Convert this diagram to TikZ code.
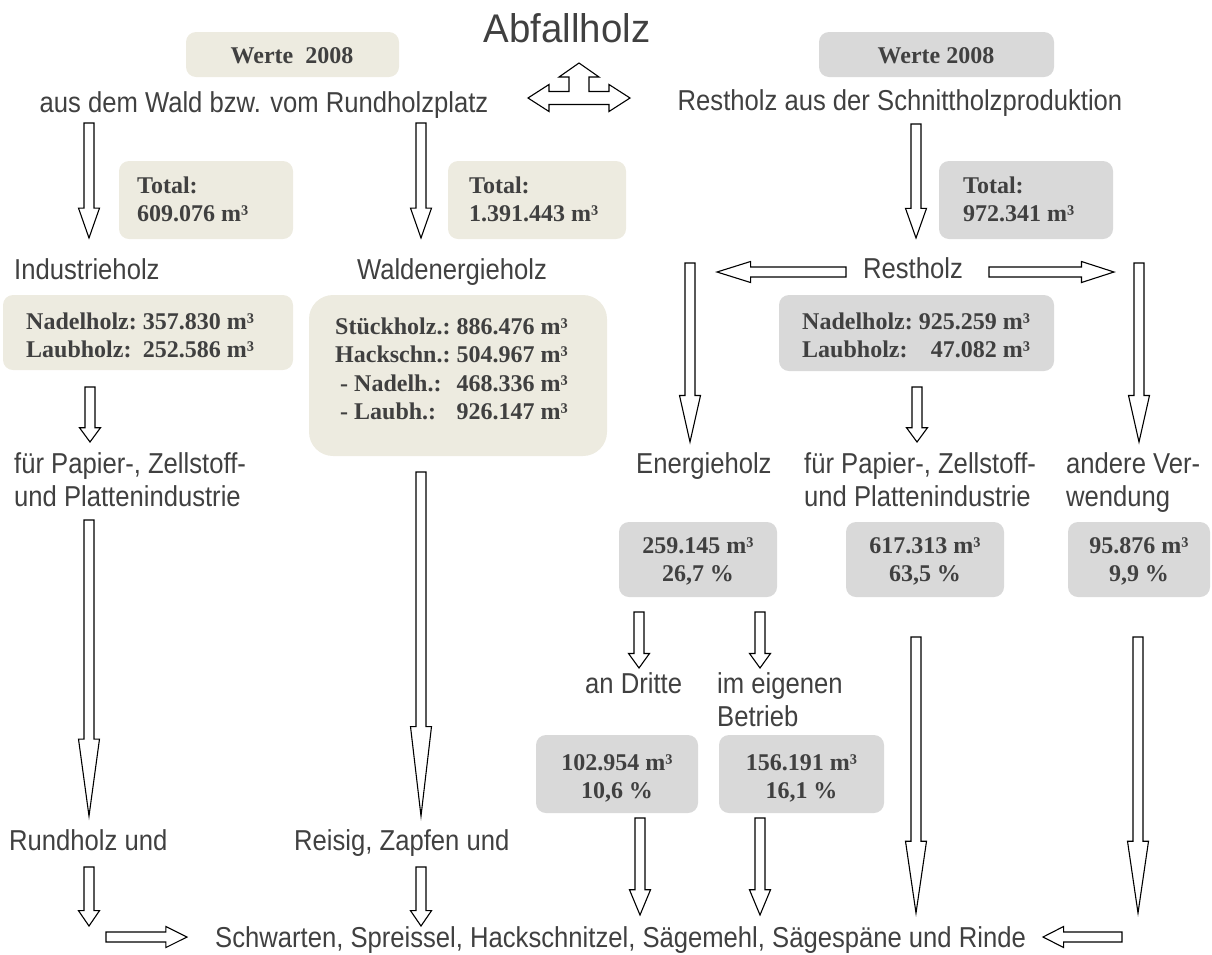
\documentclass[tikz,border=0pt]{standalone}
\usepackage{fontspec}
\setmainfont{Liberation Serif}
\newfontfamily\labfont{Liberation Sans}[FakeStretch=0.89]
\newfontfamily\headfont{Liberation Sans}[FakeStretch=0.96]
\usetikzlibrary{calc}
\definecolor{beige}{RGB}{237,235,224}
\definecolor{boxgray}{RGB}{217,217,217}
\definecolor{txtgray}{RGB}{64,64,64}
\tikzset{
  lab/.style={font=\labfont\fontsize{28.8}{33}\selectfont, text=txtgray, inner sep=0pt},
  headline/.style={font=\headfont\fontsize{40}{42}\selectfont, text=txtgray, inner sep=0pt},
  val/.style={font=\bfseries\fontsize{24}{28.5}\selectfont, text=txtgray, inner sep=0pt},
  panel/.style={rectangle, rounded corners=10pt, inner sep=0pt, outer sep=0pt},
  fat/.style={draw=black, fill=white, line width=1.1pt, line join=miter,
    to path={($(\tikztotarget)!0.26!(\tikztostart)$) coordinate (fa-b)
      ($(\tikztostart)!5pt!90:(\tikztotarget)$) -- ($(fa-b)!5pt!90:(\tikztotarget)$)
      -- ($(fa-b)!10.5pt!90:(\tikztotarget)$) -- (\tikztotarget)
      -- ($(fa-b)!10.5pt!-90:(\tikztotarget)$) -- ($(fa-b)!5pt!-90:(\tikztotarget)$)
      -- ($(\tikztostart)!5pt!-90:(\tikztotarget)$) -- cycle}}
}
\begin{document}
\begin{tikzpicture}[x=1pt, y=-1pt]
\useasboundingbox (0,0) rectangle (1212,954);
\foreach \nm/\xa/\ya/\xb/\yb/\col in {werteL/186/32/399/77/beige, werteR/819/32/1054/77/boxgray,
    totL/119/161/293/239/beige, totM/448/161/626/239/beige, totR/939/161/1113/239/boxgray,
    nadL/3/295/293/370/beige, nadR/779/295/1054/371/boxgray,
    eng/619/522/777/597/boxgray, pap/846/522/1004/597/boxgray, and/1068/522/1210/597/boxgray,
    dri/536/735/698/813/boxgray, eig/719/735/884/813/boxgray}
  \node[panel, fill=\col, minimum width=\xb-\xa, minimum height=\yb-\ya] (\nm) at ({(\xa+\xb)/2},{(\ya+\yb)/2}) {};
\node[panel, fill=beige, rounded corners=24pt, minimum width=298, minimum height=161] (wenB) at (458,375.5) {};

\node[headline, anchor=base] (title) at (567,42) {Abfallholz};
\node[val, anchor=base] (werteLt) at (292,63) {Werte\ \ 2008};
\node[val, anchor=base] (werteRt) at (936,63) {Werte 2008};
\node[lab, anchor=base] (wald) at (264,112) {aus dem Wald bzw. vom Rundholzplatz};
\node[lab, anchor=base] (rest) at (900,110) {Restholz aus der Schnittholzproduktion};
\coordinate (tri) at (579,98);
\draw[draw=black, fill=white, line width=1.1pt, shift={(tri)}] (-51,0) -- (-30,-13.5) -- (-30,-6.5)
  -- (-10,-6.5) -- (-10,-21) -- (-20,-21) -- (0,-35) -- (20,-21) -- (10,-21) -- (10,-6.5)
  -- (30,-6.5) -- (30,-13.5) -- (51,0) -- (30,13.5) -- (30,6.5) -- (-30,6.5) -- (-30,13.5) -- cycle;

\node[val, anchor=base west] (totLt) at (137,193) {\begin{tabular}[t]{@{}l@{}}Total:\\609.076 m³\end{tabular}};
\node[val, anchor=base west] (totMt) at (469,193) {\begin{tabular}[t]{@{}l@{}}Total:\\1.391.443 m³\end{tabular}};
\node[val, anchor=base west] (totRt) at (963,193) {\begin{tabular}[t]{@{}l@{}}Total:\\972.341 m³\end{tabular}};

\node[lab, anchor=base west] (ind) at (14,279) {Industrieholz};
\node[lab, anchor=base] (wen) at (452,279) {Waldenergieholz};
\node[lab, anchor=base] (rh) at (913,278) {Restholz};

\node[val, anchor=base west] (nadLt) at (26,329) {\begin{tabular}[t]{@{}l@{\ }r@{}}Nadelholz: & 357.830 m³\\Laubholz: & 252.586 m³\end{tabular}};
\node[val, anchor=base west] (wenBt) at (335,334) {\begin{tabular}[t]{@{}l@{\ }l@{}}Stückholz.: & 886.476 m³\\Hackschn.: & 504.967 m³\\\hspace{5pt}- Nadelh.: & 468.336 m³\\\hspace{5pt}- Laubh.: & 926.147 m³\end{tabular}};
\node[val, anchor=base west] (nadRt) at (802,329) {\begin{tabular}[t]{@{}l@{\ }r@{}}Nadelholz: & 925.259 m³\\Laubholz: & 47.082 m³\end{tabular}};

\node[lab, anchor=base west] (papL) at (14,473) {\begin{tabular}[t]{@{}l@{}}für Papier-, Zellstoff-\\und Plattenindustrie\end{tabular}};
\node[lab, anchor=base west] (enh) at (636,473) {Energieholz};
\node[lab, anchor=base west] (papR) at (804,473) {\begin{tabular}[t]{@{}l@{}}für Papier-, Zellstoff-\\und Plattenindustrie\end{tabular}};
\node[lab, anchor=base west] (andv) at (1066,473) {\begin{tabular}[t]{@{}l@{}}andere Ver-\\wendung\end{tabular}};

\node[val, anchor=base] (engt) at (698,553) {\begin{tabular}[t]{@{}c@{}}259.145 m³\\26,7 \%\end{tabular}};
\node[val, anchor=base] (papt) at (925,553) {\begin{tabular}[t]{@{}c@{}}617.313 m³\\63,5 \%\end{tabular}};
\node[val, anchor=base] (andt) at (1139,553) {\begin{tabular}[t]{@{}c@{}}95.876 m³\\9,9 \%\end{tabular}};

\node[lab, anchor=base west] (drit) at (585,693) {an Dritte};
\node[lab, anchor=base west] (eigb) at (717,693) {\begin{tabular}[t]{@{}l@{}}im eigenen\\Betrieb\end{tabular}};
\node[val, anchor=base] (dritt) at (617,770) {\begin{tabular}[t]{@{}c@{}}102.954 m³\\10,6 \%\end{tabular}};
\node[val, anchor=base] (eigt) at (801.5,770) {\begin{tabular}[t]{@{}c@{}}156.191 m³\\16,1 \%\end{tabular}};

\node[lab, anchor=base west] (rund) at (9,850) {Rundholz und};
\node[lab, anchor=base west] (reis) at (294,850) {Reisig, Zapfen und};
\node[lab, anchor=base west] (schw) at (215,947) {Schwarten, Spreissel, Hackschnitzel, Sägemehl, Sägespäne und Rinde};

\foreach \nm/\xa/\ya/\xb/\yb in {dA/89/123/89/238, dB/421/123/421/238, dC/916/124/916/238,
    dE/690/263/690/442, dV/1139/263/1139/442, dI/90/387/90/442, dP/917/387/917/442,
    dL/89/520/89/816, dW/421/472/421/816, dT/639/612/639/668, dS/760/612/760/668,
    dF/916/637/916/913, dG/1138/637/1138/913, dX/640/818/640/915, dY/760/818/760/915,
    dR/89/867/89/926, dZ/421/867/421/926,
    hL/846/272/717/272, hR/989/272/1114/272, hB/106/937/187/937, hC/1122/937/1043/937}{
  \coordinate (\nm-s) at (\xa,\ya);
  \coordinate (\nm-e) at (\xb,\yb);
  \draw[fat] (\nm-s) to (\nm-e);
}
\end{tikzpicture}
\end{document}
